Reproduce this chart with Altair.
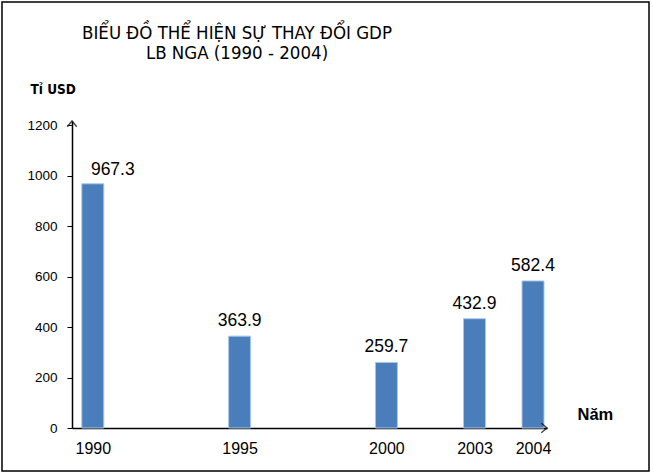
import altair as alt
import pandas as pd

# ---- data ----
years = [1990, 1995, 2000, 2003, 2004]
gdp = [967.3, 363.9, 259.7, 432.9, 582.4]
labels = ["967.3", "363.9", "259.7", "432.9", "582.4"]
year_ticks = [1990, 1995, 2000, 2003, 2004]
y_ticks = [0, 200, 400, 600, 800, 1000, 1200]
title_lines = ["BIỂU ĐỒ THỂ HIỆN SỰ THAY  ĐỔI GDP", "LB NGA (1990 - 2004)"]
y_title = "Tỉ USD"
x_title = "Năm"

df = pd.DataFrame({"year": years, "gdp": gdp, "label": labels})
one = pd.DataFrame({"k": [0]})

W, H = 475, 307
FONT = "Liberation Sans, Arial, sans-serif"
NARROW = "Liberation Sans Narrow, Arial Narrow, DejaVu Sans Condensed, sans-serif"

xscale = alt.Scale(domain=[1989.451, 2003, 2004, 2004.239],
                   range=[0, 402.5, 461, W], nice=False, zero=False)
yscale = alt.Scale(domain=[0, 1216], nice=False, zero=True)

x_axis = alt.Axis(values=year_ticks, format="d", ticks=False, grid=False,
                  labelFontSize=16, labelFont=FONT, labelColor="black",
                  labelPadding=12, labelFlush=False, labelOverlap=False,
                  domainColor="black", domainWidth=1.5,
                  title=x_title, titleX=505, titleY=-9, titleAlign="left",
                  titleBaseline="alphabetic", titleFontSize=16.5,
                  titleFontWeight="bold", titleFont=FONT, titleColor="black")
y_axis = alt.Axis(values=y_ticks, format="d", grid=False, tickSize=5, tickColor="black",
                  labelFontSize=13.5, labelFont=FONT, labelColor="black",
                  labelPadding=10, labelFlush=False, labelOverlap=False,
                  domainColor="black", domainWidth=1.5,
                  title=y_title, titleAngle=0, titleX=-42, titleY=-28,
                  titleAlign="left", titleBaseline="alphabetic",
                  titleFontSize=13.5, titleFontWeight="bold", titleFont=NARROW,
                  titleColor="black")

base = alt.Chart(df)

bars = base.mark_bar(size=22, color="#4A7EBB", stroke="#A9C7EA", strokeWidth=1).encode(
    x=alt.X("year:Q", scale=xscale, axis=x_axis),
    y=alt.Y("gdp:Q", scale=yscale, axis=y_axis),
)

labels_main = base.transform_filter(alt.datum.year != 1990).mark_text(
    baseline="alphabetic", dy=-10, fontSize=17.5, font=FONT, color="black"
).encode(x="year:Q", y="gdp:Q", text="label:N")

labels_first = base.transform_filter(alt.datum.year == 1990).mark_text(
    baseline="alphabetic", dy=-9, dx=20, fontSize=17.5, font=FONT, color="black"
).encode(x="year:Q", y="gdp:Q", text="label:N")

arrow_up = alt.Chart(one).mark_point(
    shape="M-1,1.2L0,0L1,1.2", filled=False, stroke="black", strokeWidth=1.5, size=90
).encode(x=alt.value(0), y=alt.value(0))

arrow_right = alt.Chart(one).mark_point(
    shape="M-1.2,-1L0,0L-1.2,1", filled=False, stroke="black", strokeWidth=1.5, size=90
).encode(x=alt.value(W), y=alt.value(H))

frame = alt.Chart(one).mark_rect(filled=False, stroke="black", strokeWidth=1.5).encode(
    x=alt.value(-70), x2=alt.value(577), y=alt.value(-119), y2=alt.value(350)
)

title = alt.Chart(one).mark_text(
    font=NARROW, fontSize=18.5, align="center", baseline="alphabetic",
    lineHeight=20, color="black"
).encode(x=alt.value(165), y=alt.value(-82), text=alt.value(title_lines))

chart = alt.layer(bars, labels_main, labels_first, arrow_up, arrow_right, frame, title).properties(
    width=W, height=H,
    autosize=alt.AutoSizeParams(type="none"),
    padding={"left": 72, "top": 121, "right": 106, "bottom": 47},
    background="white",
).configure_view(stroke=None)

chart.save("out.html", embed_options={"renderer": "svg", "actions": False})
